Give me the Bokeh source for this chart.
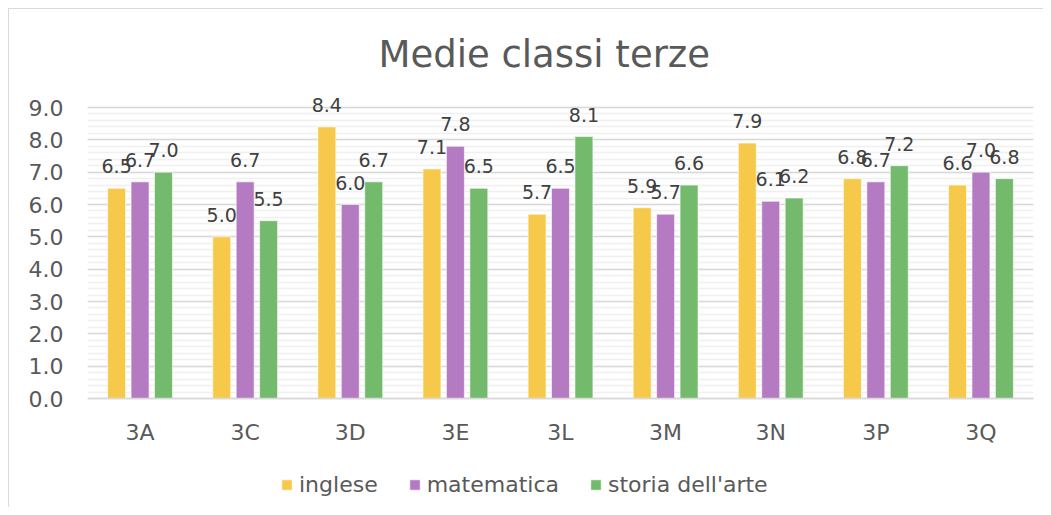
from bokeh.plotting import figure
from bokeh.models import (ColumnDataSource, Range1d, FactorRange, LabelSet, Legend, LegendItem,
                          FixedTicker, PrintfTickFormatter, Span, Grid)
from bokeh.core.properties import value
from bokeh.transform import dodge
from bokeh.embed import file_html
from bokeh.resources import INLINE

categories = ["3A", "3C", "3D", "3E", "3L", "3M", "3N", "3P", "3Q"]
inglese = [6.5, 5.0, 8.4, 7.1, 5.7, 5.9, 7.9, 6.8, 6.6]
matematica = [6.7, 6.7, 6.0, 7.8, 6.5, 5.7, 6.1, 6.7, 7.0]
storia_arte = [7.0, 5.5, 6.7, 6.5, 8.1, 6.6, 6.2, 7.2, 6.8]
series_names = ["inglese", "matematica", "storia dell'arte"]
colors = ["#F7C94B", "#B57BC2", "#73BA6D"]
y_ticks = [0, 1, 2, 3, 4, 5, 6, 7, 8, 9]

FONT = "DejaVu Sans"
TXT = "#595959"

src = ColumnDataSource(dict(
    cat=categories,
    zero=[0] * len(categories),
    ing=inglese, mat=matematica, sto=storia_arte,
    ing_l=["%.1f" % v for v in inglese],
    mat_l=["%.1f" % v for v in matematica],
    sto_l=["%.1f" % v for v in storia_arte],
))

# frame: 0 -> y=398 px, 9 -> y=107 px ; extended down to canvas bottom for the legend
PX = (398 - 107) / 9.0
p = figure(width=1043, height=507, x_range=FactorRange(*categories),
           y_range=Range1d(-(507 - 398) / PX, 9 + 16 / PX),
           x_axis_location=None,
           output_backend="svg", toolbar_location=None,
           min_border_left=87, min_border_right=10, min_border_top=91, min_border_bottom=0,
           styles={"background": "linear-gradient(#d9d9d9,#d9d9d9) 8px 8px / 1px 100% no-repeat, "
                                 "linear-gradient(#d9d9d9,#d9d9d9) 8px 8px / 100% 1px no-repeat, #ffffff"})
p.border_fill_alpha = 0
p.background_fill_color = "white"
p.outline_line_color = None
p.x_range.range_padding = 0

for g in p.center:
    if isinstance(g, Grid) and g.dimension == 0:
        g.visible = False

p.title.text = "Medie classi terze"
p.title.text_font = FONT
p.title.text_font_size = "37px"
p.title.text_font_style = "normal"
p.title.text_color = TXT
p.title.align = "left"
p.title.offset = 291
p.title.standoff = 31

offsets = [-0.223, 0.0, 0.223]
cols = ["ing", "mat", "sto"]
renderers = []
for off, c, col in zip(offsets, cols, colors):
    r = p.vbar(x=dodge("cat", off, range=p.x_range), top=c, bottom=0, width=0.171, source=src,
               fill_color=col, line_color="white", line_alpha=0.6, line_width=1)
    renderers.append(r)
    lbl = LabelSet(x=dodge("cat", off, range=p.x_range), y=c, text=c + "_l", source=src,
                   text_align="center", text_baseline="alphabetic", y_offset=15,
                   text_font=value(FONT), text_font_size=value("19px"), text_color=value("#404040"))
    p.add_layout(lbl)

# category labels under the zero line
cat_lbl = LabelSet(x="cat", y="zero", text="cat", source=src, text_align="center",
                   text_baseline="alphabetic", y_offset=-41,
                   text_font=value(FONT), text_font_size=value("22px"), text_color=value(TXT))
p.add_layout(cat_lbl)

# zero axis line
p.add_layout(Span(location=0, dimension="width", line_color="#d9d9d9", line_width=1.5))

minor = [round(i * 0.2, 1) for i in range(0, 46)]
p.yaxis.ticker = FixedTicker(ticks=y_ticks, minor_ticks=minor)
p.yaxis.formatter = PrintfTickFormatter(format="%.1f")
p.yaxis.axis_line_color = None
p.yaxis.major_tick_line_color = None
p.yaxis.minor_tick_line_color = None
p.yaxis.major_tick_out = 0
p.yaxis.minor_tick_out = 0
p.yaxis.major_label_standoff = 24
p.yaxis.major_label_text_font = FONT
p.yaxis.major_label_text_font_size = "22px"
p.yaxis.major_label_text_color = TXT

p.ygrid.grid_line_color = "#d9d9d9"
p.ygrid.grid_line_width = 1.5
p.ygrid.minor_grid_line_color = "#f0f0f0"
p.ygrid.minor_grid_line_width = 1.5

legend = Legend(items=[LegendItem(label=n, renderers=[r]) for n, r in zip(series_names, renderers)],
                orientation="horizontal", location=(193, 10),
                glyph_width=13, glyph_height=13, label_standoff=6, spacing=30,
                padding=0, margin=0, border_line_color=None, background_fill_alpha=0,
                label_text_font=FONT, label_text_font_size="22px", label_text_color=TXT)
p.add_layout(legend, "center")

open("out.html", "w").write(file_html(p, INLINE))
